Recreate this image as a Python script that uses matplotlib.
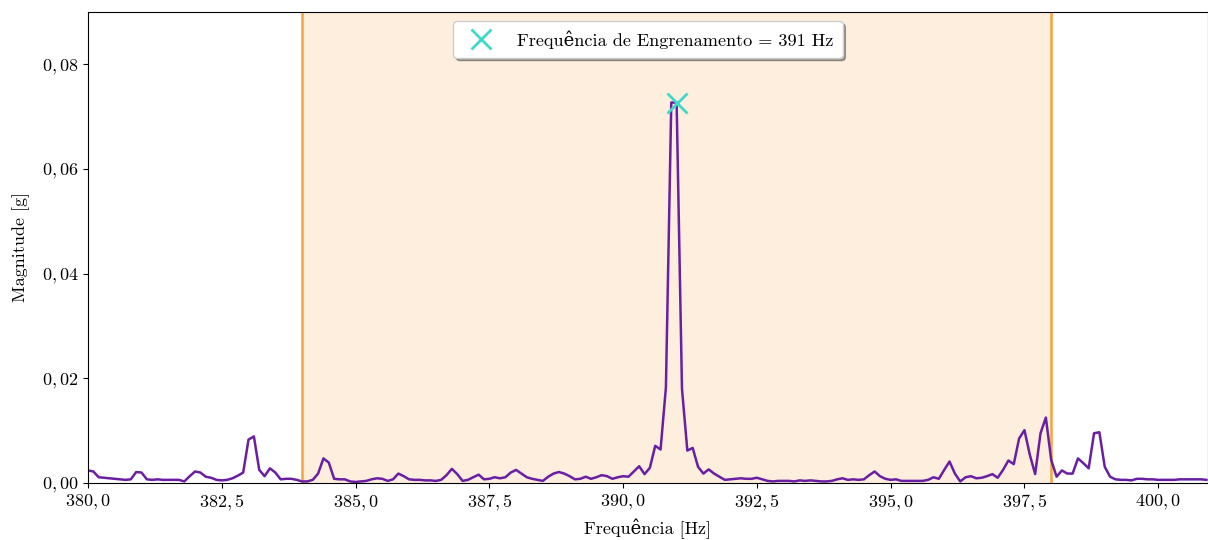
import numpy as np
import matplotlib.pyplot as plt
from matplotlib.ticker import FuncFormatter

plt.rcParams['font.family'] = ['cmr10', 'DejaVu Serif']
plt.rcParams['mathtext.fontset'] = 'cm'
plt.rcParams['axes.formatter.use_mathtext'] = True

# espectro (passo de 0,1 Hz de 380,0 a 400,9)
f_start = 380.0
f_step = 0.1
magnitude = [
    0.0024, 0.0022, 0.0011, 0.0010, 0.0009, 0.0008, 0.0007, 0.0006, 0.0007, 0.0021,  # 380.0
    0.0020, 0.0007, 0.0006, 0.0007, 0.0006, 0.0006, 0.0006, 0.0006, 0.0003, 0.0013,  # 381.0
    0.0022, 0.0020, 0.0012, 0.0010, 0.0006, 0.0005, 0.0006, 0.0009, 0.0014, 0.0020,  # 382.0
    0.0083, 0.0089, 0.0025, 0.0013, 0.0028, 0.0020, 0.0007, 0.0008, 0.0008, 0.0006,  # 383.0
    0.0003, 0.0003, 0.0006, 0.0018, 0.0047, 0.0039, 0.0008, 0.0007, 0.0007, 0.0003,  # 384.0
    0.0002, 0.0003, 0.0004, 0.0007, 0.0009, 0.0008, 0.0004, 0.0007, 0.0018, 0.0013,  # 385.0
    0.0007, 0.0006, 0.0006, 0.0005, 0.0005, 0.0004, 0.0006, 0.0015, 0.0027, 0.0017,  # 386.0
    0.0004, 0.0006, 0.0011, 0.0016, 0.0007, 0.0008, 0.0011, 0.0009, 0.0011, 0.0020,  # 387.0
    0.0025, 0.0018, 0.0011, 0.0008, 0.0006, 0.0004, 0.0012, 0.0018, 0.0021, 0.0018,  # 388.0
    0.0013, 0.0007, 0.0008, 0.0012, 0.0008, 0.0011, 0.0015, 0.0013, 0.0008, 0.0011,  # 389.0
    0.0013, 0.0012, 0.0022, 0.0032, 0.0017, 0.0029, 0.0071, 0.0064, 0.0183, 0.0727,  # 390.0
    0.0727, 0.0180, 0.0062, 0.0067, 0.0031, 0.0018, 0.0026, 0.0018, 0.0012, 0.0006,  # 391.0
    0.0007, 0.0008, 0.0009, 0.0008, 0.0008, 0.0010, 0.0007, 0.0004, 0.0003, 0.0004,  # 392.0
    0.0004, 0.0004, 0.0003, 0.0005, 0.0004, 0.0005, 0.0004, 0.0003, 0.0003, 0.0004,  # 393.0
    0.0007, 0.0009, 0.0006, 0.0007, 0.0006, 0.0007, 0.0015, 0.0022, 0.0013, 0.0008,  # 394.0
    0.0006, 0.0007, 0.0004, 0.0004, 0.0004, 0.0004, 0.0004, 0.0006, 0.0011, 0.0008,  # 395.0
    0.0025, 0.0041, 0.0018, 0.0003, 0.0011, 0.0013, 0.0009, 0.0010, 0.0013, 0.0017,  # 396.0
    0.0010, 0.0025, 0.0043, 0.0036, 0.0085, 0.0101, 0.0054, 0.0017, 0.0095, 0.0125,  # 397.0
    0.0044, 0.0012, 0.0024, 0.0018, 0.0018, 0.0047, 0.0038, 0.0028, 0.0095, 0.0097,  # 398.0
    0.0031, 0.0012, 0.0007, 0.0006, 0.0006, 0.0005, 0.0008, 0.0008, 0.0007, 0.0007,  # 399.0
    0.0006, 0.0006, 0.0006, 0.0006, 0.0007, 0.0007, 0.0007, 0.0007, 0.0007, 0.0006,  # 400.0
]
freq = f_start + f_step * np.arange(len(magnitude))

f_engrenamento = 391.0
mag_engrenamento = 0.0727
banda = [384.0, 398.0]

fig = plt.figure(figsize=(12.08, 5.4), dpi=100)
ax = fig.add_axes([88 / 1208, 57 / 540, 1120 / 1208, 471 / 540])

ax.axvspan(banda[0], banda[1], color='#fdeedd', zorder=0)
ax.axvline(banda[0], color='#f5a53c', lw=1.8, zorder=1)
ax.axvline(banda[1], color='#f5a53c', lw=1.8, zorder=1)

ax.plot(freq, magnitude, color='#6a1fa2', lw=1.8, zorder=2)
ax.plot(f_engrenamento, mag_engrenamento, 'x', color='#40d8c8', ms=14, mew=2, zorder=3,
        label='Frequência de Engrenamento = 391 Hz')

ax.set_xlim(380, 400.93)
ax.set_ylim(0, 0.09)
ax.set_xticks([380, 382.5, 385, 387.5, 390, 392.5, 395, 397.5, 400])
ax.set_yticks([0, 0.02, 0.04, 0.06, 0.08])
ax.xaxis.set_major_formatter(FuncFormatter(lambda v, p: '$%s$' % ('%.1f' % v).replace('.', ',')))
ax.yaxis.set_major_formatter(FuncFormatter(lambda v, p: '$%s$' % ('%.2f' % v).replace('.', ',')))
ax.tick_params(labelsize=13)

ax.set_xlabel('Frequência [Hz]', fontsize=13, labelpad=4)
ax.set_ylabel('Magnitude [g]', fontsize=13, labelpad=8)

ax.legend(loc='upper center', shadow=True, fontsize=13.1, framealpha=1,
          borderpad=0.5, handletextpad=1.0)

fig.savefig('out.png', dpi=100)
